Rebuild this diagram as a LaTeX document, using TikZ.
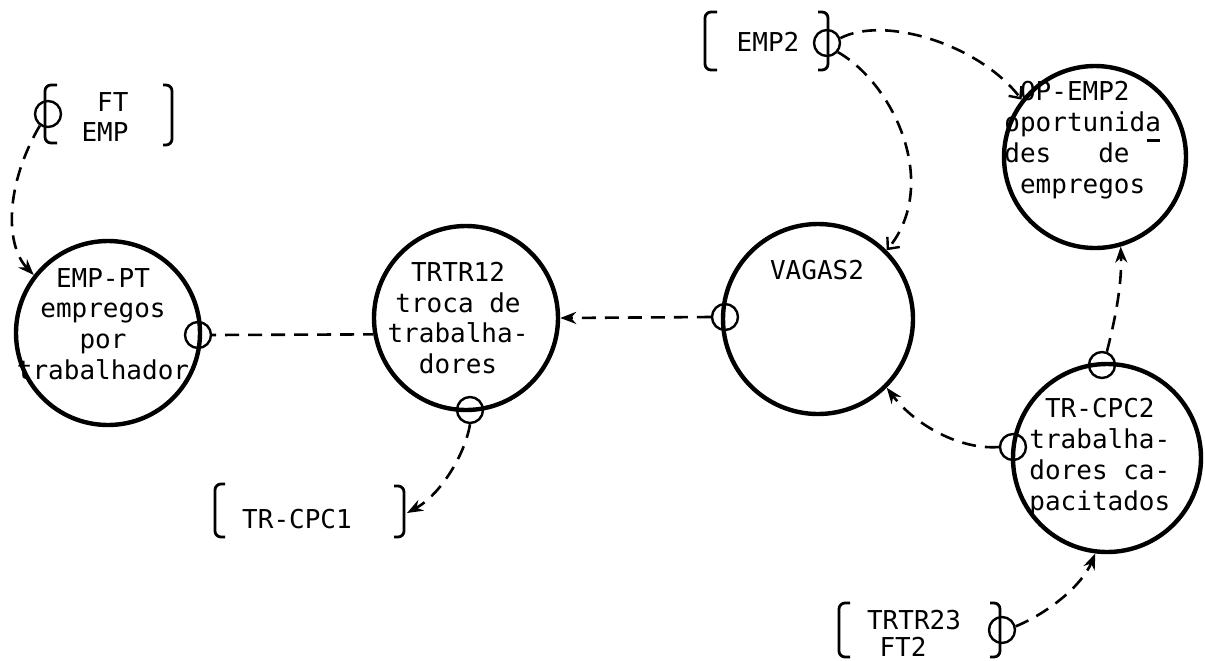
\documentclass[tikz,border=0pt]{standalone}
\usepackage{fontspec}
\setmonofont{DejaVu Sans Mono}
\usetikzlibrary{arrows.meta}
% letter marked with a low rule, typewriter style
\newcommand\markeda{a\llap{\rule[-5.5pt]{0.5em}{1.5pt}\hspace{0.05em}}}
\begin{document}
\begin{tikzpicture}[x=0.5pt,y=-0.5pt,
  stock/.style={circle,draw,line width=2.2pt,inner sep=0pt,minimum size=#1},
  tap/.style={circle,draw,line width=1.2pt,inner sep=0pt,minimum size=13pt},
  link/.style={line width=1.3pt,dash pattern=on 7pt off 4.5pt},
  tip/.style={-{Stealth[length=8pt,width=6pt]}},
  barb/.style={-{Straight Barb[length=4.5pt,width=8pt,line width=1.2pt]}},
  txt/.style={font=\ttfamily\fontsize{13}{15.4}\selectfont,inner sep=0pt,align=center},
  brk/.style={line width=1.4pt,rounded corners=3pt},
]
\useasboundingbox (0,0) rectangle (1205,660);
\clip (0,0) rectangle (1205,660);

% stocks
\node[stock=92pt] (ept) at (108,333) {};
\node[stock=92pt] (trtr) at (466,318) {};
\node[stock=95pt] (vag) at (818,319) {};
\node[stock=91pt] (opemp) at (1095,157) {};
\node[stock=94pt] (trcpc) at (1107,458) {};

% stock texts
\node[txt] (eptT) at (103,324) {EMP-PT\\empregos\\por\\trabalhador};
\node[txt] (trtrT) at (458,318) {TRTR12\\troca de\\trabalha-\\dores};
\node[txt] (vagT) at (817,270) {VAGAS2};
\node[txt,align=left,anchor=west] (opT) at (1004,140) {~OP-EMP2\\oportunid\markeda\\des~~~de\\~empregos};
\node[txt,align=left,anchor=west] (trcT) at (1029,457) {~TR-CPC2\\trabalha-\\dores ca-\\pacitados};

% external references in brackets
\node[txt,align=right] (ftemp) at (105,117) {FT\\EMP};
\draw[brk] (57,85) -- (45,85) -- (45,143) -- (57,143);
\draw[brk] (163,85) -- (172,85) -- (172,145) -- (163,145);

\node[txt] (emp2) at (768,42) {EMP2};
\draw[brk] (717,12) -- (705,12) -- (705,70) -- (717,70);
\draw[brk] (818,12) -- (828,12) -- (828,70) -- (818,70);

\node[txt] (cpc1) at (297,519) {TR-CPC1};
\draw[brk] (225,484) -- (215,484) -- (215,537) -- (225,537);
\draw[brk] (394,486) -- (404,486) -- (404,537) -- (394,537);
\coordinate (cpc1r) at (407,513);

\node[txt] (trtr23) at (914,620) {TRTR23};
\node[txt] (ft2) at (903,647) {FT2};
\draw[brk] (850,603) -- (839,603) -- (839,657) -- (850,657);
\draw[brk] (990,603) -- (1000,603) -- (1000,657) -- (990,657);

% taps
\node[tap] (sFT) at (48,114) {};
\node[tap] (sEPT) at (198,335) {};
\node[tap] (sTRTR) at (470,410) {};
\node[tap] (sVAG) at (725,317) {};
\node[tap] (sEMP2) at (827,43) {};
\node[tap] (sTRCa) at (1102,365) {};
\node[tap] (sTRCb) at (1013,447) {};
\node[tap] (sTRTR23) at (1002,630) {};

% links
\draw[link,tip] (sFT.235) .. controls (5,185) and (5,245) .. (ept.142);
\draw[link,dash phase=5pt] (sEPT.east) -- (trtr.190.6);
\draw[link,tip] (sVAG.west) -- (trtr.east);
\draw[link,tip] (sTRTR.south) .. controls (465,455) and (440,495) .. (cpc1r);
\draw[link,barb] (sEMP2.-40) .. controls (895,85) and (940,185) .. (vag.45);
\draw[link,barb] (sEMP2.20) .. controls (885,15) and (980,45) .. (opemp.142.5);
\draw[link,tip] (sTRCa.70) .. controls (1115,320) and (1122,285) .. (opemp.-74);
\draw[link,tip] (sTRCb.west) .. controls (960,450) and (915,425) .. (vag.-45);
\draw[link,tip] (sTRTR23.15) .. controls (1050,612) and (1082,585) .. (trcpc.-97);
\end{tikzpicture}
\end{document}
